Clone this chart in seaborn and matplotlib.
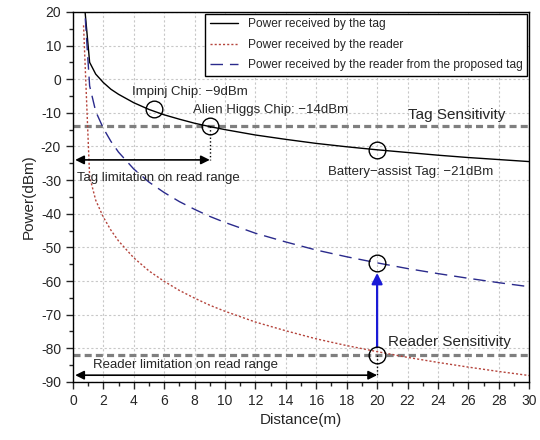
import numpy as np
import pandas as pd
import matplotlib
matplotlib.use('Agg')
import matplotlib.pyplot as plt
import seaborn as sns

# Distancias de muestreo (m) y potencias (dBm)
distancia = [0.7, 1.1, 1.5, 2, 2.5, 3, 4, 5, 6, 7, 8, 9, 10, 12, 14, 16, 18, 20, 22, 24, 26, 28, 30]
pot_tag = [25, 5, 1.5, -1, -3, -4.5, -7, -9, -10.6, -11.9, -13.1, -14.1, -15, -16.6, -17.9,
           -19.1, -20.1, -21, -21.8, -22.6, -23.3, -23.9, -24.5]
pot_reader = [16, -29, -36, -41, -44.9, -48.1, -53.1, -57, -60.1, -62.8, -65.1, -67.2, -69,
              -72.2, -74.8, -77.2, -79.2, -81, -82.7, -84.2, -85.6, -86.9, -88.1]
pot_propuesto = [26, -2, -9.6, -14.6, -18.5, -21.7, -26.7, -30.6, -33.7, -36.4, -38.7, -40.8,
                 -42.6, -45.8, -48.4, -50.8, -52.8, -54.6, -56.3, -57.8, -59.2, -60.5, -61.7]

nombres = ['Power received by the tag',
           'Power received by the reader',
           'Power received by the reader from the proposed tag']

sens_tag = -14
sens_reader = -82

# puntos marcados con circulos
circ_x = [5.3, 9, 20, 20, 20]
circ_y = [-9, -14, -21, -54.6, -82]

sns.set_style('ticks')
plt.rcParams['font.family'] = ['Liberation Sans', 'DejaVu Sans']
plt.rcParams['axes.unicode_minus'] = False

fig = plt.figure(figsize=(5.4, 4.4), dpi=100)
ax = fig.add_axes([0.135, 0.132, 0.845, 0.841])

df = pd.DataFrame({'d': distancia, 'tag': pot_tag, 'reader': pot_reader, 'prop': pot_propuesto})

sns.lineplot(data=df, x='d', y='tag', ax=ax, color='black', lw=1, label=nombres[0])
sns.lineplot(data=df, x='d', y='reader', ax=ax, color='#b5443c', lw=1,
             linestyle=(0, (1.5, 1.5)), label=nombres[1])
sns.lineplot(data=df, x='d', y='prop', ax=ax, color='#2a2a8c', lw=1,
             linestyle=(0, (9, 5)), label=nombres[2])

# lineas de sensibilidad
ax.axhline(sens_tag, color='#7f7f7f', lw=2.3, ls=(0, (2.2, 1.3)), zorder=1)
ax.axhline(sens_reader, color='#7f7f7f', lw=2.3, ls=(0, (2.2, 1.3)), zorder=1)

ax.plot(circ_x, circ_y, 'o', ms=12, mfc='none', mec='black', mew=1, zorder=5)

# lineas punteadas verticales
ax.plot([9, 9], [-14, -24], color='black', ls=':', lw=1)
ax.plot([20, 20], [-82, -88], color='black', ls=':', lw=1)

# flechas de rango
ax.annotate('', xy=(0.15, -24), xytext=(9, -24),
            arrowprops=dict(arrowstyle='<|-|>', color='black', lw=1.2,
                            mutation_scale=13, shrinkA=0, shrinkB=0))
ax.annotate('', xy=(0.15, -88), xytext=(20, -88),
            arrowprops=dict(arrowstyle='<|-|>', color='black', lw=1.2,
                            mutation_scale=13, shrinkA=0, shrinkB=0))
ax.annotate('', xy=(20, -57.6), xytext=(20, -79.6),
            arrowprops=dict(arrowstyle='-|>', color='#1a1ad6', lw=1.6,
                            mutation_scale=16, shrinkA=0, shrinkB=0))

fs = 9.5
ax.text(3.9, -3.8, 'Impinj Chip: \u22129dBm', fontsize=fs, va='center')
ax.text(7.9, -9.2, 'Alien Higgs Chip: \u221214dBm', fontsize=fs, va='center')
ax.text(22, -10.6, 'Tag Sensitivity', fontsize=11, va='center')
ax.text(16.8, -27.6, 'Battery\u2212assist Tag: \u221221dBm', fontsize=fs, va='center')
ax.text(0.3, -29.4, 'Tag limitation on read range', fontsize=fs, va='center')
ax.text(1.3, -85, 'Reader limitation on read range', fontsize=fs, va='center')
ax.text(20.7, -78, 'Reader Sensitivity', fontsize=11, va='center')

ax.set_xlim(0, 30)
ax.set_ylim(-90, 20)
ax.set_xticks(np.arange(0, 31, 2))
ax.set_xticks(np.arange(0, 31, 1), minor=True)
ax.set_yticks(np.arange(-90, 21, 10))
ax.set_yticks(np.arange(-90, 21, 5), minor=True)
ax.tick_params(which='major', direction='out', length=5, width=1, labelsize=10)
ax.tick_params(which='minor', direction='out', length=3, width=1)
ax.grid(True, which='major', color='#c8c8c8', ls=(0, (2, 2)), lw=0.8)
for s in ax.spines.values():
    s.set_visible(True)
    s.set_color('black')
    s.set_linewidth(1)

ax.set_xlabel('Distance(m)', fontsize=11)
ax.set_ylabel('Power(dBm)', fontsize=11)

leg = ax.legend(loc='upper right', fontsize=8.6, frameon=True, fancybox=False,
                edgecolor='black', framealpha=1, borderaxespad=0.15,
                handlelength=2.4, labelspacing=0.7)
leg.get_frame().set_linewidth(1)

fig.savefig('out.png', dpi=100)
